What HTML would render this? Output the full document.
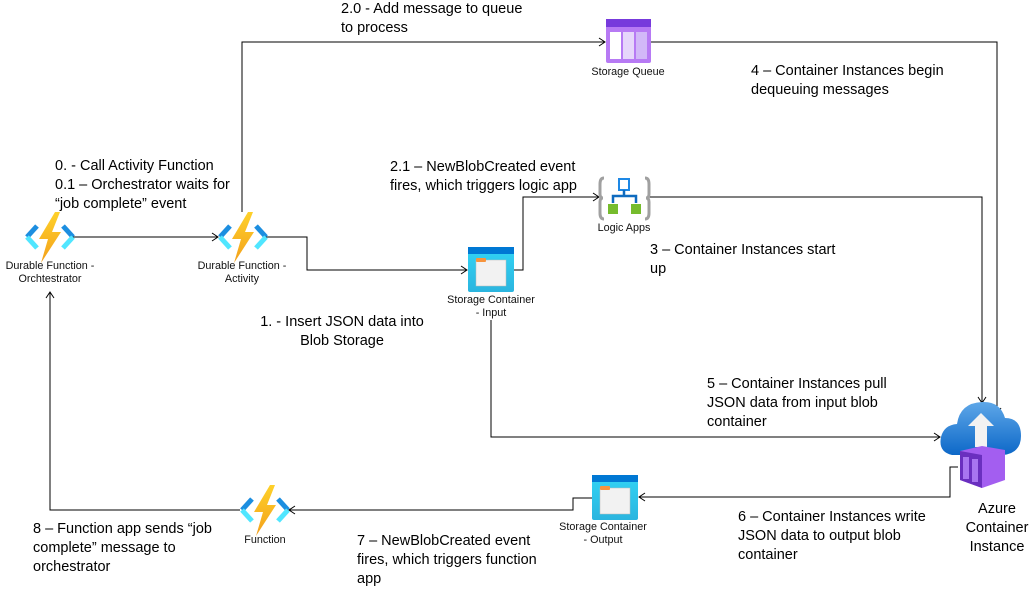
<!DOCTYPE html>
<html><head><meta charset="utf-8"><style>
html,body{margin:0;padding:0;background:#fff;}
#c{position:relative;width:1034px;height:594px;overflow:hidden;font-family:"Liberation Sans",sans-serif;color:#000;}
.t{position:absolute;font-size:14.5px;line-height:19px;white-space:nowrap;}
.s{position:absolute;font-size:10.8px;line-height:13px;white-space:nowrap;text-align:center;color:#111;}
svg{position:absolute;left:0;top:0;}
</style></head><body><div id="c">
<svg width="1034" height="594" viewBox="0 0 1034 594">
<defs>
<marker id="a" markerWidth="8" markerHeight="10" refX="7" refY="5" orient="auto" markerUnits="userSpaceOnUse"><path d="M1,1 L7,5 L1,9" fill="none" stroke="#000" stroke-width="1"/></marker>
<linearGradient id="bolt" x1="0" y1="0" x2="0" y2="1"><stop offset="0" stop-color="#fed12a"/><stop offset="1" stop-color="#f3a01c"/></linearGradient>
<linearGradient id="cont" x1="0" y1="0" x2="0" y2="1"><stop offset="0" stop-color="#32d4f5"/><stop offset="1" stop-color="#2bb5df"/></linearGradient>
<linearGradient id="cloud" x1="0" y1="0" x2="0" y2="1"><stop offset="0" stop-color="#5ea7e8"/><stop offset="1" stop-color="#0d68c8"/></linearGradient>
<g id="fn"><path d="M10,-2 L0,9" fill="none" stroke="#1c8ee0" stroke-width="5"/><path d="M0,9 L10,20" fill="none" stroke="#50e6ff" stroke-width="5"/><path d="M36,-2 L46,9" fill="none" stroke="#1c8ee0" stroke-width="5"/><path d="M46,9 L36,20" fill="none" stroke="#50e6ff" stroke-width="5"/><path d="M28,-16 L12,11 L21,11 L14,35 L34,4 L25,4 L33,-16 Z" fill="url(#bolt)"/></g>
<g id="ct"><rect x="0" y="0" width="46" height="45" rx="2" fill="url(#cont)"/><rect x="0" y="0" width="46" height="7" fill="#0078d4"/><rect x="8" y="13" width="30" height="26" fill="#f2f2f2" stroke="#bbb" stroke-width="0.5"/><rect x="8" y="11" width="10" height="4" rx="1" fill="#f7943d"/></g>
</defs>
<g fill="none" stroke="#000" stroke-width="1">
<path d="M73,237 H218" marker-end="url(#a)"/>
<path d="M265,237 H307 V270 H467" marker-end="url(#a)"/>
<path d="M242,212 V42 H605" marker-end="url(#a)"/>
<path d="M651,42 H997 V414" marker-end="url(#a)"/>
<path d="M648,197 H982 V403" marker-end="url(#a)"/>
<path d="M514,270 H523 V197 H599" marker-end="url(#a)"/>
<path d="M491,320 V437 H940" marker-end="url(#a)"/>
<path d="M958,467 H950 V497 H639" marker-end="url(#a)"/>
<path d="M592,498 H573 V510 H289" marker-end="url(#a)"/>
<path d="M240,510 H50 V292" marker-end="url(#a)"/>
</g>
<use href="#fn" x="27" y="228"/>
<use href="#fn" x="220" y="228"/>
<use href="#fn" x="242" y="501"/>
<use href="#ct" x="468" y="247"/>
<use href="#ct" x="592" y="475"/>
<rect x="606" y="19" width="45" height="44" rx="2" fill="#b77af4"/>
<rect x="606" y="19" width="45" height="8" fill="#773adc"/>
<rect x="610" y="32" width="11" height="27" fill="#fff"/>
<rect x="623" y="32" width="11" height="27" fill="#e6d6fb"/>
<rect x="636" y="32" width="11" height="27" fill="#d2b8f8"/>
<path d="M604,178 Q600,178 600,184 V194 Q600,198 603,198 Q600,198 600,202 V213 Q600,219 604,219" fill="none" stroke="#a0a0a0" stroke-width="3"/>
<path d="M645,178 Q649,178 649,184 V194 Q649,198 646,198 Q649,198 649,202 V213 Q649,219 645,219" fill="none" stroke="#a0a0a0" stroke-width="3"/>
<rect x="619" y="179" width="10" height="11" fill="#fff" stroke="#1e88e5" stroke-width="2"/>
<path d="M624,190 V196 M613,203 V196 H636 V203" fill="none" stroke="#0f6bbf" stroke-width="2.5"/>
<rect x="608" y="204" width="10" height="10" fill="#76bc2d"/>
<rect x="631" y="204" width="10" height="10" fill="#76bc2d"/>
<path d="M952,455 Q938,452 941,437 Q944,425 957,424 Q960,403 982,402 Q1000,401 1005,418 Q1021,418 1021,436 Q1021,453 1003,455 Z" fill="url(#cloud)"/>
<path d="M981,413 L968,426 H975 V447 H987 V426 H994 Z" fill="#f2f2f2"/>
<path d="M960,451 L982,446 L1005,450 V480 L982,488 L960,480 Z" fill="#a35ef0"/>
<path d="M960,451 L982,455 V488 L960,480 Z" fill="#6a2fbf"/>
<rect x="963" y="457" width="6" height="22" fill="#a875f0"/>
<rect x="972" y="459" width="6" height="23" fill="#a875f0"/>
</svg>
<div class="t" style="left:341px;top:0px">2.0 - Add message to queue<br>to process</div>
<div class="t" style="left:751px;top:62px">4 – Container Instances begin<br>dequeuing messages</div>
<div class="t" style="left:55px;top:157px">0. - Call Activity Function<br>0.1 – Orchestrator waits for<br>“job complete” event</div>
<div class="t" style="left:390px;top:158px">2.1 – NewBlobCreated event<br>fires, which triggers logic app</div>
<div class="t" style="left:650px;top:241px">3 – Container Instances start<br>up</div>
<div class="t" style="left:252px;top:313px;width:180px;text-align:center">1. - Insert JSON data into<br>Blob Storage</div>
<div class="t" style="left:707px;top:375px">5 – Container Instances pull<br>JSON data from input blob<br>container</div>
<div class="t" style="left:738px;top:508px">6 – Container Instances write<br>JSON data to output blob<br>container</div>
<div class="t" style="left:947px;top:500px;width:100px;text-align:center">Azure<br>Container<br>Instance</div>
<div class="t" style="left:357px;top:532px">7 – NewBlobCreated event<br>fires, which triggers function<br>app</div>
<div class="t" style="left:33px;top:520px">8 – Function app sends “job<br>complete” message to<br>orchestrator</div>
<div class="s" style="left:0px;top:260px;width:100px">Durable Function -<br>Orchtestrator</div>
<div class="s" style="left:192px;top:260px;width:100px">Durable Function -<br>Activity</div>
<div class="s" style="left:578px;top:66px;width:100px">Storage Queue</div>
<div class="s" style="left:574px;top:222px;width:100px">Logic Apps</div>
<div class="s" style="left:426px;top:294px;width:130px">Storage Container<br>- Input</div>
<div class="s" style="left:538px;top:521px;width:130px">Storage Container<br>- Output</div>
<div class="s" style="left:215px;top:534px;width:100px">Function</div>
</div></body></html>
